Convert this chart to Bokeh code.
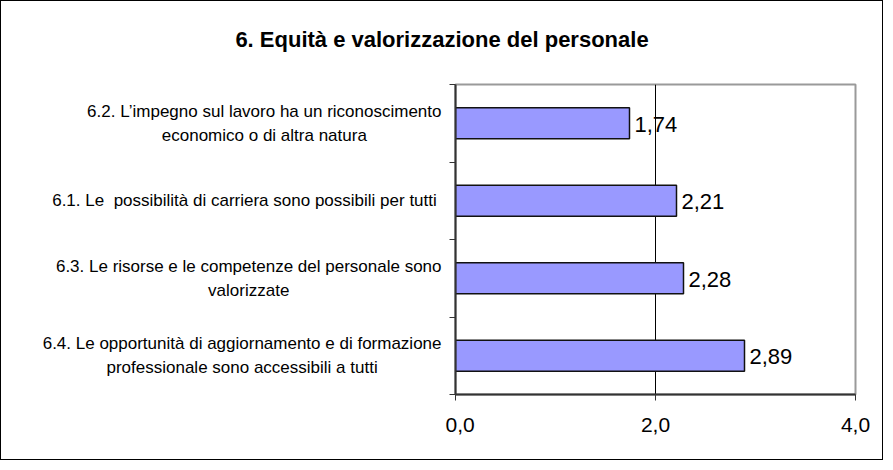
from bokeh.plotting import figure
from bokeh.layouts import column, row
from bokeh.models import FixedTicker, Range1d, ColumnDataSource
from bokeh.embed import file_html
from bokeh.resources import INLINE
from bokeh.core.properties import value

title_text = "6. Equità e valorizzazione del personale"
# top to bottom
categories = [
    "6.2. L\u2019impegno sul lavoro ha un riconoscimento\neconomico o di altra natura",
    "6.1. Le\u00a0 possibilità di carriera sono possibili per tutti\u00a0",
    "6.3. Le risorse e le competenze del personale sono\nvalorizzate",
    "6.4. Le opportunità di aggiornamento e di formazione\nprofessionale sono accessibili a tutti",
]
values = [1.74, 2.21, 2.28, 2.89]
x_ticks = [0, 2, 4]
x_tick_labels = ["0,0", "2,0", "4,0"]

FONT = "Liberation Sans"
n = len(categories)
y_pos = [n - i - 0.5 for i in range(n)]
bounds = list(range(n + 1))
val_labels = [f"{v:.2f}".replace(".", ",") for v in values]

src = ColumnDataSource(dict(y=y_pos, v=values, lab=val_labels, cat=categories))
y_range = Range1d(0, n)

TOTAL_W = 881
TITLE_H = 81
BODY_H = 377
LABEL_W = 444


def blank(fig):
    fig.background_fill_color = "white"
    fig.border_fill_color = "white"
    fig.outline_line_color = None
    fig.xgrid.visible = False
    fig.ygrid.visible = False


# ---- title strip
tf = figure(width=TOTAL_W, height=TITLE_H, x_range=Range1d(0, 1), y_range=Range1d(0, 1),
            output_backend="svg", toolbar_location=None,
            x_axis_location=None, y_axis_location=None,
            min_border=0)
blank(tf)
tf.text(x=[0.5], y=[1], text=[title_text], y_offset=38,
        text_font=value(FONT), text_font_size="22px", text_font_style="bold",
        text_color="black", text_align="center", text_baseline="alphabetic")

# ---- category labels strip
lf = figure(width=LABEL_W, height=BODY_H, x_range=Range1d(0, 1), y_range=y_range,
            output_backend="svg", toolbar_location=None,
            x_axis_location=None, y_axis_location=None,
            min_border_left=0, min_border_right=0,
            min_border_top=2, min_border_bottom=65)
blank(lf)
lf.text(x=1, y="y", text="cat", source=src, x_offset=-4,
        anchor="center_right", text_align="center", text_baseline="middle",
        text_font=value(FONT), text_font_size="17px", text_color="black",
        text_line_height=1.25)

# ---- bar chart
p = figure(width=TOTAL_W - LABEL_W, height=BODY_H,
           x_range=Range1d(x_ticks[0], x_ticks[-1]), y_range=y_range,
           output_backend="svg", toolbar_location=None,
           min_border_left=10, min_border_right=27,
           min_border_top=2, min_border_bottom=65)
p.background_fill_color = "white"
p.border_fill_color = "white"
p.outline_line_color = "#9a9a9a"
p.outline_line_width = 2

p.hbar(y="y", right="v", left=0, height=0.4, source=src,
       fill_color="#9999FF", line_color="#111111", line_width=1.5)
p.text(x="v", y="y", text="lab", source=src, x_offset=5, y_offset=1,
       text_font=value(FONT), text_font_size="22px", text_color="black",
       text_align="left", text_baseline="middle")

xa = p.xaxis[0]
xa.ticker = FixedTicker(ticks=x_ticks, minor_ticks=[])
xa.major_label_overrides = {t: l for t, l in zip(x_ticks, x_tick_labels)}
xa.axis_line_color = "#333333"
xa.axis_line_width = 2
xa.major_tick_line_color = "#333333"
xa.major_tick_out = 6
xa.major_tick_in = 0
xa.major_label_standoff = 17
xa.major_label_text_font = FONT
xa.major_label_text_font_size = "21px"
xa.major_label_text_color = "black"

ya = p.yaxis[0]
ya.ticker = FixedTicker(ticks=y_pos, minor_ticks=bounds)
ya.major_label_overrides = {y: "" for y in y_pos}
ya.major_label_standoff = 0
ya.axis_line_color = "#333333"
ya.axis_line_width = 2
ya.major_tick_line_color = None
ya.major_tick_out = 0
ya.major_tick_in = 0
ya.minor_tick_line_color = "#333333"
ya.minor_tick_out = 6
ya.minor_tick_in = 0

p.xgrid.ticker = FixedTicker(ticks=x_ticks[1:-1])
p.xgrid.grid_line_color = "black"
p.xgrid.grid_line_width = 1
p.ygrid.visible = False

layout = column(tf, row(lf, p, spacing=0), spacing=0)
layout.styles = {"border": "1px solid #000000", "background-color": "white"}

open("out.html", "w").write(file_html(layout, INLINE))
